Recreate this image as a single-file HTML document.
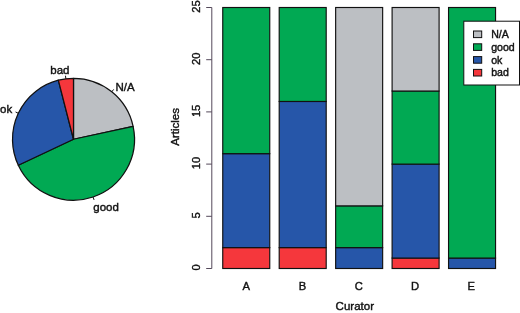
<!DOCTYPE html>
<html><head><meta charset="utf-8"><style>
html,body{margin:0;padding:0;background:#fff;}
body{width:520px;height:313px;overflow:hidden;font-family:"Liberation Sans",sans-serif;}
svg{display:block;font-family:"Liberation Sans",sans-serif;will-change:transform;}
text{stroke:#111;stroke-width:0.4px;}
body{-webkit-font-smoothing:antialiased;}
</style></head><body>
<svg width="520" height="313" viewBox="0 0 520 313">
<path d="M73.5,139.25 L73.50,78.25 A61,61 0 0 1 133.11,126.32 Z" fill="#bcbfc3" stroke="#111" stroke-width="1.25" stroke-linejoin="round"/>
<path d="M73.5,139.25 L133.11,126.32 A61,61 0 0 1 18.31,165.22 Z" fill="#01a953" stroke="#111" stroke-width="1.25" stroke-linejoin="round"/>
<path d="M73.5,139.25 L18.31,165.22 A61,61 0 0 1 58.33,80.17 Z" fill="#2656a9" stroke="#111" stroke-width="1.25" stroke-linejoin="round"/>
<path d="M73.5,139.25 L58.33,80.17 A61,61 0 0 1 73.50,78.25 Z" fill="#f5373c" stroke="#111" stroke-width="1.25" stroke-linejoin="round"/>
<line x1="111.79" y1="91.76" x2="113.70" y2="89.39" stroke="#111" stroke-width="1"/>
<line x1="93.08" y1="197.02" x2="94.06" y2="199.91" stroke="#111" stroke-width="1"/>
<line x1="18.31" y1="113.28" x2="15.55" y2="111.98" stroke="#111" stroke-width="1"/>
<line x1="65.85" y1="78.73" x2="65.47" y2="75.71" stroke="#111" stroke-width="1"/>
<g font-size="11.5" fill="#111">
<text x="115.4" y="90.6">N/A</text>
<text x="93.3" y="210.8">good</text>
<text x="12.2" y="113.4" text-anchor="end">ok</text>
<text x="50.3" y="73.6">bad</text>
</g>
<rect x="222.75" y="247.62" width="47.00" height="20.88" fill="#f5373c" stroke="#111" stroke-width="1.15"/><rect x="222.75" y="153.66" width="47.00" height="93.96" fill="#2656a9" stroke="#111" stroke-width="1.15"/><rect x="222.75" y="7.50" width="47.00" height="146.16" fill="#01a953" stroke="#111" stroke-width="1.15"/><rect x="279.20" y="247.62" width="47.00" height="20.88" fill="#f5373c" stroke="#111" stroke-width="1.15"/><rect x="279.20" y="101.46" width="47.00" height="146.16" fill="#2656a9" stroke="#111" stroke-width="1.15"/><rect x="279.20" y="7.50" width="47.00" height="93.96" fill="#01a953" stroke="#111" stroke-width="1.15"/><rect x="335.65" y="247.62" width="47.00" height="20.88" fill="#2656a9" stroke="#111" stroke-width="1.15"/><rect x="335.65" y="205.86" width="47.00" height="41.76" fill="#01a953" stroke="#111" stroke-width="1.15"/><rect x="335.65" y="7.50" width="47.00" height="198.36" fill="#bcbfc3" stroke="#111" stroke-width="1.15"/><rect x="392.10" y="258.06" width="47.00" height="10.44" fill="#f5373c" stroke="#111" stroke-width="1.15"/><rect x="392.10" y="164.10" width="47.00" height="93.96" fill="#2656a9" stroke="#111" stroke-width="1.15"/><rect x="392.10" y="91.02" width="47.00" height="73.08" fill="#01a953" stroke="#111" stroke-width="1.15"/><rect x="392.10" y="7.50" width="47.00" height="83.52" fill="#bcbfc3" stroke="#111" stroke-width="1.15"/><rect x="448.55" y="258.06" width="47.00" height="10.44" fill="#2656a9" stroke="#111" stroke-width="1.15"/><rect x="448.55" y="7.50" width="47.00" height="250.56" fill="#01a953" stroke="#111" stroke-width="1.15"/>
<line x1="211.8" y1="268.50" x2="211.8" y2="7.50" stroke="#54495a" stroke-width="1"/><line x1="206.2" y1="268.50" x2="211.8" y2="268.50" stroke="#54495a" stroke-width="1"/><line x1="206.2" y1="216.30" x2="211.8" y2="216.30" stroke="#54495a" stroke-width="1"/><line x1="206.2" y1="164.10" x2="211.8" y2="164.10" stroke="#54495a" stroke-width="1"/><line x1="206.2" y1="111.90" x2="211.8" y2="111.90" stroke="#54495a" stroke-width="1"/><line x1="206.2" y1="59.70" x2="211.8" y2="59.70" stroke="#54495a" stroke-width="1"/><line x1="206.2" y1="7.50" x2="211.8" y2="7.50" stroke="#54495a" stroke-width="1"/>
<g font-size="11.2" fill="#111"><text transform="translate(200,267.50) rotate(-90)" text-anchor="middle">0</text><text transform="translate(200,215.30) rotate(-90)" text-anchor="middle">5</text><text transform="translate(200,163.10) rotate(-90)" text-anchor="middle">10</text><text transform="translate(200,110.90) rotate(-90)" text-anchor="middle">15</text><text transform="translate(200,58.70) rotate(-90)" text-anchor="middle">20</text><text transform="translate(200,6.50) rotate(-90)" text-anchor="middle">25</text><text x="246.30" y="289.6" text-anchor="middle">A</text><text x="302.53" y="289.6" text-anchor="middle">B</text><text x="358.76" y="289.6" text-anchor="middle">C</text><text x="414.99" y="289.6" text-anchor="middle">D</text><text x="471.22" y="289.6" text-anchor="middle">E</text></g>
<text transform="translate(179,126.9) rotate(-90)" text-anchor="middle" font-size="11.5" fill="#111">Articles</text>
<text x="354.8" y="310.4" text-anchor="middle" font-size="11.5" fill="#111">Curator</text>
<g fill="#111"><rect x="463.8" y="21.2" width="55.7" height="63.8" fill="#fff" stroke="#111" stroke-width="1"/><rect x="473.5" y="31.00" width="8.2" height="6.6" fill="#bcbfc3" stroke="#111" stroke-width="1"/><text x="491.2" y="38.00" font-size="10.6">N/A</text><rect x="473.5" y="43.80" width="8.2" height="6.6" fill="#01a953" stroke="#111" stroke-width="1"/><text x="491.2" y="50.80" font-size="10.6">good</text><rect x="473.5" y="56.60" width="8.2" height="6.6" fill="#2656a9" stroke="#111" stroke-width="1"/><text x="491.2" y="63.60" font-size="10.6">ok</text><rect x="473.5" y="69.40" width="8.2" height="6.6" fill="#f5373c" stroke="#111" stroke-width="1"/><text x="491.2" y="76.40" font-size="10.6">bad</text></g>
</svg>
</body></html>
